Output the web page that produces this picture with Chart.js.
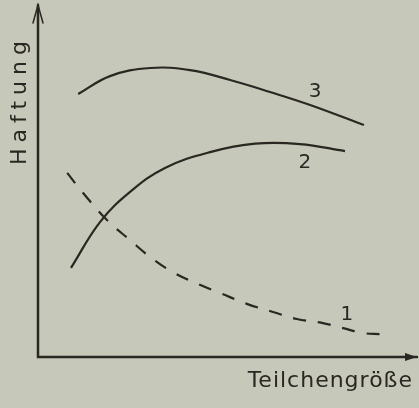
<!DOCTYPE html>
<html>
<head>
<meta charset="utf-8">
<script src="https://cdn.jsdelivr.net/npm/chart.js@4"></script>
<style>
  html, body { margin: 0; padding: 0; background: #c6c8b9; }
  #wrap { width: 419px; height: 408px; }
</style>
</head>
<body>
<div id="wrap"><canvas id="chart" width="419" height="408"></canvas></div>
<script>
// Particle size (x) vs. adhesion (y), arbitrary units 0..10
const curve1X = [0.77, 1.19, 1.82, 2.43, 2.96, 3.56, 4.27, 4.80, 5.51, 6.20, 6.83, 7.49, 8.05, 8.58, 9.02];
const curve1Y = [5.23, 4.66, 3.89, 3.32, 2.84, 2.41, 2.05, 1.82, 1.51, 1.28, 1.08, 0.97, 0.82, 0.68, 0.65];

const curve2X = [0.87, 1.64, 2.43, 3.35, 4.54, 5.73, 6.91, 8.10];
const curve2Y = [2.53, 3.84, 4.69, 5.37, 5.82, 6.06, 6.05, 5.85];

const curve3X = [1.06, 1.90, 2.96, 4.01, 5.07, 6.12, 7.18, 8.60];
const curve3Y = [7.47, 7.98, 8.21, 8.15, 7.87, 7.53, 7.16, 6.59];

// curve number labels
const curveNames = ['1', '2', '3'];
const labelX = [8.15, 7.04, 7.31];
const labelY = [1.19, 5.51, 7.53];

const xTitle = 'Teilchengröße';
const yTitle = 'Haftung';

const ink = '#2a2722';

function toPoints(xs, ys) {
    return xs.map((x, i) => ({ x: x, y: ys[i] }));
}

// draws the axes with arrows, axis titles and curve numbers
const sketchPlugin = {
    id: 'sketch',
    afterDatasetsDraw(chart) {
        const ctx = chart.ctx;
        const a = chart.chartArea;
        const xs = chart.scales.x;
        const ys = chart.scales.y;
        ctx.save();
        ctx.strokeStyle = ink;
        ctx.fillStyle = ink;
        ctx.lineWidth = 2.5;
        ctx.lineCap = 'round';

        // axes
        ctx.beginPath();
        ctx.moveTo(a.left, a.top);
        ctx.lineTo(a.left, a.bottom);
        ctx.lineTo(a.right, a.bottom);
        ctx.stroke();

        // arrow heads
        ctx.lineWidth = 1.5;
        ctx.beginPath();
        ctx.moveTo(a.left - 5, a.top + 18);
        ctx.lineTo(a.left, a.top);
        ctx.lineTo(a.left + 5, a.top + 18);
        ctx.stroke();
        ctx.beginPath();
        ctx.moveTo(a.right, a.bottom);
        ctx.lineTo(a.right - 12, a.bottom - 4);
        ctx.lineTo(a.right - 12, a.bottom + 4);
        ctx.closePath();
        ctx.fill();

        // axis titles
        ctx.font = '22px "DejaVu Sans"';
        ctx.textBaseline = 'middle';
        ctx.textAlign = 'right';
        ctx.letterSpacing = '1px';
        ctx.fillText(xTitle, a.right - 4, a.bottom + 24);

        ctx.save();
        ctx.translate(a.left - 18, 100);
        ctx.rotate(-Math.PI / 2);
        ctx.textAlign = 'center';
        ctx.letterSpacing = '6px';
        ctx.fillText(yTitle, 0, 0);
        ctx.restore();

        // curve numbers
        ctx.letterSpacing = '0px';
        ctx.textAlign = 'center';
        ctx.font = '20px "DejaVu Sans"';
        curveNames.forEach((n, i) => {
            ctx.fillText(n, xs.getPixelForValue(labelX[i]), ys.getPixelForValue(labelY[i]));
        });
        ctx.restore();
    }
};

const lineStyle = {
    borderColor: ink,
    backgroundColor: 'transparent',
    borderWidth: 2.2,
    pointRadius: 0,
    tension: 0.4
};

new Chart(document.getElementById('chart').getContext('2d'), {
    type: 'line',
    data: {
        datasets: [
            Object.assign({ label: '1', data: toPoints(curve1X, curve1Y), borderDash: [13, 12] }, lineStyle),
            Object.assign({ label: '2', data: toPoints(curve2X, curve2Y) }, lineStyle),
            Object.assign({ label: '3', data: toPoints(curve3X, curve3Y) }, lineStyle)
        ]
    },
    options: {
        responsive: false,
        animation: false,
        layout: { padding: { left: 38, top: 5, right: 2, bottom: 51 } },
        scales: {
            x: { type: 'linear', min: 0, max: 10, display: false },
            y: { type: 'linear', min: 0, max: 10, display: false }
        },
        plugins: {
            legend: { display: false },
            tooltip: { enabled: false }
        }
    },
    plugins: [sketchPlugin]
});
</script>
</body>
</html>
